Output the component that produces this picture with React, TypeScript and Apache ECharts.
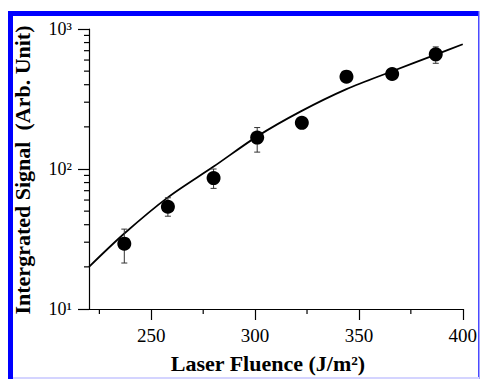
import React, { useEffect, useRef } from "react";
import * as echarts from "echarts";

const fluence = [237, 258, 280, 301, 322.5, 344, 366, 387];
const signal = [29.3, 53.7, 86.1, 167.6, 213.6, 456.7, 477, 659];
const errLow = [21.3, 46, 72.7, 132, null, null, null, 569];
const errHigh = [37.2, 62.3, 100, 197.7, null, null, null, 745];

// Fit curve
const fitX = [220, 237, 258, 280, 301, 322, 344, 366, 387, 400];
const fitY = [20, 34.6, 62.7, 104, 171, 258, 372, 499, 656, 778];

// Axis ticks
const xMajorTicks = [250, 300, 350, 400];
const xMinorTicks = [225, 275, 325, 375];
const yMinorTicks = [20, 30, 40, 50, 60, 70, 80, 90, 200, 300, 400, 500, 600, 700, 800, 900];
const yTickLabels = ["10¹", "10²", "10³"];

const xTitle = "Laser Fluence (J/m²)";
const yTitle = "Intergrated Signal  (Arb. Unit)";

const FONT = "'Liberation Serif', 'Times New Roman', serif";

export default function App() {
  const ref = useRef<HTMLDivElement>(null);

  useEffect(() => {
    if (!ref.current) return;
    const chart = echarts.init(ref.current, null, { renderer: "svg" });

    const errData = fluence
      .map((x, i) => [x, errLow[i], errHigh[i]])
      .filter((d) => d[1] !== null && d[2] !== null);

    const option: any = {
      animation: false,
      backgroundColor: "#ffffff",
      grid: { left: 89, top: 29, right: 13, bottom: 70, containLabel: false },
      xAxis: {
        type: "value",
        min: 220,
        max: 400,
        splitLine: { show: false },
        axisLine: { show: true, lineStyle: { color: "#000", width: 1.2 } },
        axisTick: {
          show: true,
          inside: false,
          length: 11,
          customValues: xMajorTicks,
          lineStyle: { color: "#000", width: 1.2 },
        },
        axisLabel: {
          customValues: xMajorTicks,
          color: "#000",
          fontFamily: FONT,
          fontSize: 19,
          margin: 17,
        },
      },
      yAxis: {
        type: "log",
        logBase: 10,
        min: 10,
        max: 1000,
        splitLine: { show: false },
        axisLine: { show: true, lineStyle: { color: "#000", width: 1.2 } },
        axisTick: { show: true, inside: false, length: 11, lineStyle: { color: "#000", width: 1.2 } },
        axisLabel: {
          color: "#000",
          fontFamily: FONT,
          fontSize: 18,
          margin: 17,
          formatter: (v: number) => yTickLabels[Math.round(Math.log10(v)) - 1] ?? "",
        },
      },
      series: [
        {
          type: "line",
          data: fitX.map((x, i) => [x, fitY[i]]),
          smooth: 0.3,
          symbol: "none",
          lineStyle: { color: "#000", width: 1.8 },
          z: 2,
        },
        {
          type: "custom",
          data: errData,
          clip: false,
          z: 3,
          renderItem: (params: any, api: any) => {
            const x = api.value(0);
            const lo = api.coord([x, api.value(1)]);
            const hi = api.coord([x, api.value(2)]);
            const cap = 3;
            const st = { stroke: "#333", lineWidth: 1 };
            return {
              type: "group",
              children: [
                { type: "line", shape: { x1: lo[0], y1: lo[1], x2: hi[0], y2: hi[1] }, style: st },
                { type: "line", shape: { x1: lo[0] - cap, y1: lo[1], x2: lo[0] + cap, y2: lo[1] }, style: st },
                { type: "line", shape: { x1: hi[0] - cap, y1: hi[1], x2: hi[0] + cap, y2: hi[1] }, style: st },
              ],
            };
          },
        },
        {
          type: "scatter",
          data: fluence.map((x, i) => [x, signal[i]]),
          symbol: "circle",
          symbolSize: 14,
          itemStyle: { color: "#000", opacity: 1 },
          z: 4,
        },
        {
          type: "custom",
          data: yMinorTicks.map((v) => [220, v]),
          clip: false,
          z: 5,
          renderItem: (params: any, api: any) => {
            const p = api.coord([api.value(0), api.value(1)]);
            return {
              type: "line",
              shape: { x1: p[0] - 5, y1: p[1], x2: p[0], y2: p[1] },
              style: { stroke: "#000", lineWidth: 1.2 },
            };
          },
        },
        {
          type: "custom",
          data: xMinorTicks.map((v) => [v, 10]),
          clip: false,
          z: 5,
          renderItem: (params: any, api: any) => {
            const p = api.coord([api.value(0), api.value(1)]);
            return {
              type: "line",
              shape: { x1: p[0], y1: p[1], x2: p[0], y2: p[1] + 5 },
              style: { stroke: "#000", lineWidth: 1.2 },
            };
          },
        },
      ],
      graphic: [
        { type: "rect", shape: { x: 8, y: 11, width: 471, height: 5 }, style: { fill: "#0000ff" }, z: 100 },
        { type: "rect", shape: { x: 8, y: 11, width: 5, height: 368 }, style: { fill: "#0000ff" }, z: 100 },
        { type: "rect", shape: { x: 478, y: 11, width: 1.5, height: 368 }, style: { fill: "#4a4aff" }, z: 100 },
        { type: "rect", shape: { x: 13, y: 377, width: 466, height: 2 }, style: { fill: "#d4d4ff" }, z: 100 },
        {
          type: "text",
          x: 268,
          y: 363,
          style: {
            text: xTitle,
            font: `bold 22px ${FONT}`,
            fill: "#000",
            textAlign: "center",
            textVerticalAlign: "middle",
          },
          z: 100,
        },
        {
          type: "text",
          x: 22,
          y: 170,
          rotation: Math.PI / 2,
          style: {
            text: yTitle,
            font: `bold 22px ${FONT}`,
            fill: "#000",
            textAlign: "center",
            textVerticalAlign: "middle",
          },
          z: 100,
        },
      ],
    };

    chart.setOption(option);
    return () => chart.dispose();
  }, []);

  return (
    <div
      ref={ref}
      style={{ position: "fixed", left: 0, top: 0, width: 480, height: 379, background: "#fff" }}
    />
  );
}
